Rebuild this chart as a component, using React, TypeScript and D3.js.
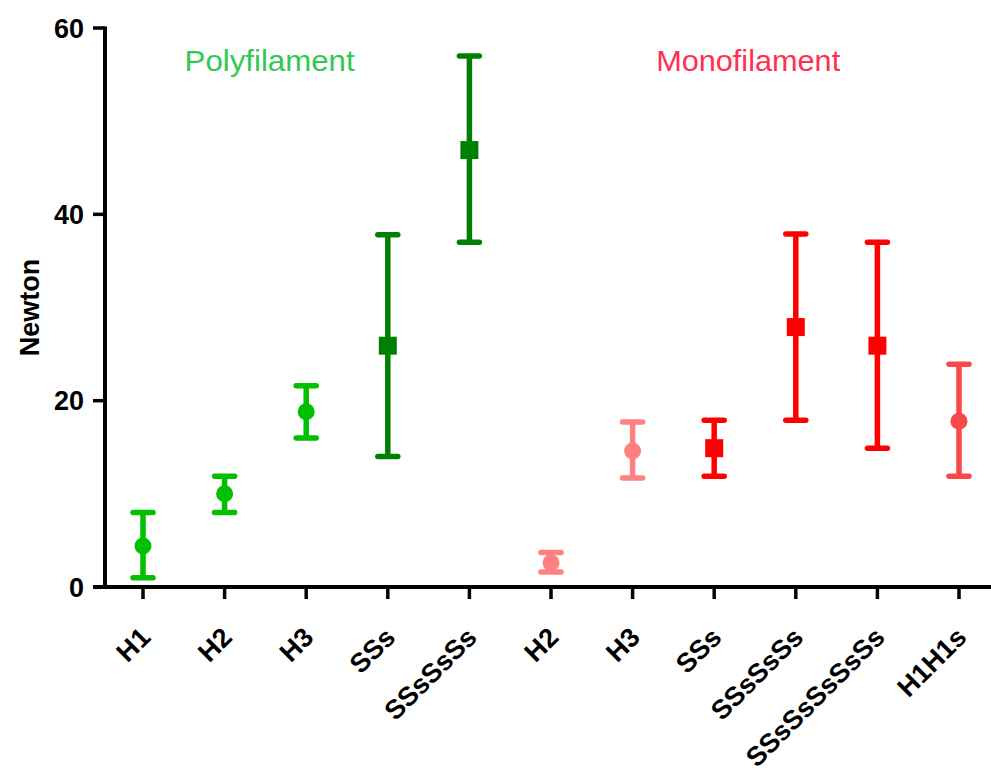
import React, { useEffect, useRef } from "react";
import * as d3 from "d3";

const categories = ["H1", "H2", "H3", "SSs", "SSsSsSs", "H2 ", "H3 ", "SSs ", "SSsSsSs ", "SSsSsSsSsSs", "H1H1s"];
const labels = ["H1", "H2", "H3", "SSs", "SSsSsSs", "H2", "H3", "SSs", "SSsSsSs", "SSsSsSsSsSs", "H1H1s"];
const means = [4.4, 10.0, 18.8, 25.9, 46.9, 2.6, 14.6, 14.9, 27.9, 25.9, 17.8];
const upper = [8.0, 11.9, 21.6, 37.8, 57.0, 3.7, 17.7, 17.9, 37.9, 37.0, 23.9];
const lower = [1.0, 8.0, 16.0, 14.0, 37.0, 1.6, 11.7, 11.9, 17.9, 14.9, 11.9];
const yTicks = [0, 20, 40, 60];
const groupLabels = ["Polyfilament", "Monofilament"];

const markerColors = ["#00C000", "#00C000", "#00C000", "#008000", "#008000", "#FF8080", "#FF8080", "#FF0000", "#FF0000", "#FF0000", "#F84848"];
const markerShapes = ["circle", "circle", "circle", "square", "square", "circle", "circle", "square", "square", "square", "circle"];
const groupColors = ["#33C850", "#FF3050"];
const FONT = "Liberation Sans, Arial, sans-serif";

export default function App() {
  const ref = useRef<SVGSVGElement>(null);

  useEffect(() => {
    const svg = d3.select(ref.current);
    svg.selectAll("*").remove();

    const x = d3.scalePoint<string>().domain(categories).range([143, 959]);
    const y = d3.scaleLinear().domain([0, 60]).range([587, 28]);

    // y axis
    const yAxis = svg.append("g").attr("transform", "translate(105,0)");
    yAxis.append("line").attr("x1", 0).attr("x2", 0).attr("y1", y(60) - 1.5).attr("y2", y(0) + 2)
      .attr("stroke", "#000").attr("stroke-width", 4);
    yTicks.forEach((t) => {
      yAxis.append("line").attr("x1", -12).attr("x2", 0).attr("y1", y(t)).attr("y2", y(t))
        .attr("stroke", "#000").attr("stroke-width", 3.5);
      yAxis.append("text").attr("x", -21).attr("y", y(t)).attr("dy", "0.36em")
        .attr("text-anchor", "end").attr("font-family", FONT)
        .attr("font-weight", "bold").attr("font-size", 27).attr("fill", "#000").text(String(t));
    });

    // x axis
    const xAxis = svg.append("g");
    xAxis.append("line").attr("x1", 93).attr("x2", 991).attr("y1", y(0)).attr("y2", y(0))
      .attr("stroke", "#000").attr("stroke-width", 4);
    categories.forEach((c, i) => {
      const cx = x(c)!;
      xAxis.append("line").attr("x1", cx).attr("x2", cx).attr("y1", y(0)).attr("y2", y(0) + 12)
        .attr("stroke", "#000").attr("stroke-width", 3.5);
      xAxis.append("text")
        .attr("transform", `translate(${cx + 9},${y(0) + 52}) rotate(-45)`)
        .attr("text-anchor", "end").attr("font-family", FONT)
        .attr("font-weight", "bold").attr("font-size", 27).attr("fill", "#000").text(labels[i]);
    });

    // y label
    svg.append("text").attr("transform", `translate(39,${y(30)}) rotate(-90)`)
      .attr("text-anchor", "middle").attr("font-family", FONT)
      .attr("font-weight", "bold").attr("font-size", 27).attr("fill", "#000").text("Newton");

    // group labels
    const groupCenters = [x(categories[1])! + 45, x(categories[7])! + 34];
    groupLabels.forEach((g, i) => {
      svg.append("text").attr("x", groupCenters[i]).attr("y", 71)
        .attr("text-anchor", "middle").attr("font-family", FONT)
        .attr("font-size", 30).attr("fill", groupColors[i])
        .attr("textLength", i === 0 ? 170 : 184).attr("lengthAdjust", "spacingAndGlyphs").text(g);
    });

    // error bars + markers
    const g = svg.append("g");
    categories.forEach((c, i) => {
      const cx = x(c)!;
      const col = markerColors[i];
      g.append("line").attr("x1", cx).attr("x2", cx).attr("y1", y(upper[i])).attr("y2", y(lower[i]))
        .attr("stroke", col).attr("stroke-width", 5.5);
      [upper[i], lower[i]].forEach((v) => {
        g.append("line").attr("x1", cx - 10).attr("x2", cx + 10).attr("y1", y(v)).attr("y2", y(v))
          .attr("stroke", col).attr("stroke-width", 5.5).attr("stroke-linecap", "round");
      });
      if (markerShapes[i] === "square") {
        g.append("rect").attr("x", cx - 9).attr("y", y(means[i]) - 9).attr("width", 18).attr("height", 18)
          .attr("fill", col);
      } else {
        g.append("circle").attr("cx", cx).attr("cy", y(means[i])).attr("r", 8.5).attr("fill", col);
      }
    });
  }, []);

  return (
    <svg ref={ref} width={991} height={773}
      style={{ position: "absolute", left: 0, top: 0, background: "#fff" }} />
  );
}
